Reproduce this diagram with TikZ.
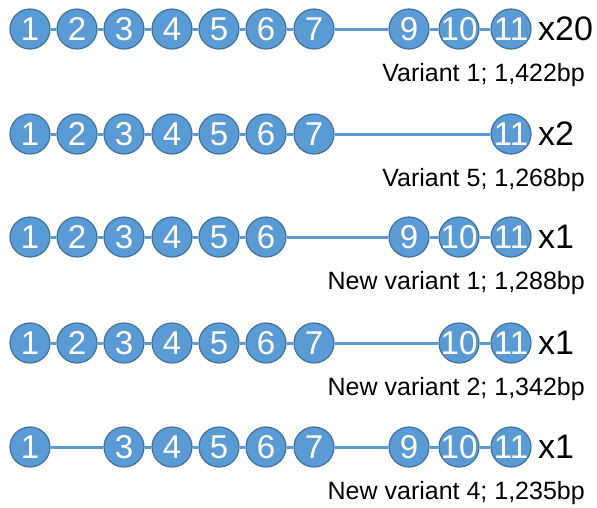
\documentclass[tikz,border=0pt]{standalone}
\usepackage{fontspec}
\setmainfont{Liberation Sans}
\definecolor{exonfill}{HTML}{5B9BD5}
\definecolor{exonedge}{HTML}{41719C}
\begin{document}
\begin{tikzpicture}[x=1pt,y=-1pt,
  exon/.style={circle,fill=exonfill,draw=exonedge,line width=1.2pt,
    minimum size=40pt,inner sep=0pt,text=white,font=\fontsize{33}{33}\selectfont},
  junction/.style={draw=exonfill,line width=3pt},
  count/.style={anchor=west,inner sep=0pt,font=\fontsize{34}{34}\selectfont},
  variant/.style={anchor=base east,inner sep=0pt,font=\fontsize{25}{25}\selectfont}]
\useasboundingbox (0,0) rectangle (597,507);
% horizontal position of each exon (index = exon number)
\def\posx{{0,30,77,124,172,219,266,314,0,409,459,511}}
\foreach \row/\y/\exons/\cnt/\lbl in {
  1/29/{1,2,3,4,5,6,7,9,10,11}/x20/{Variant 1; 1,422bp},
  2/134/{1,2,3,4,5,6,7,11}/x2/{Variant 5; 1,268bp},
  3/237/{1,2,3,4,5,6,9,10,11}/x1/{New variant 1; 1,288bp},
  4/343/{1,2,3,4,5,6,7,10,11}/x1/{New variant 2; 1,342bp},
  5/447/{1,3,4,5,6,7,9,10,11}/x1/{New variant 4; 1,235bp}} {
  \foreach \e [remember=\e as \p (initially 0)] in \exons {
    \pgfmathsetmacro\xx{\posx[\e]}
    % zero-width box keeps every exon circle the same size
    \node[exon] (r\row-\e) at (\xx,\y) {\makebox[0pt]{\e}};
    \ifnum\p>0 \draw[junction] (r\row-\p) -- (r\row-\e); \fi
  }
  \node[count] (c\row) at (538,\y) {\cnt};
  \node[variant] (v\row) at (585,\y+52) {\lbl};
}
\end{tikzpicture}
\end{document}
